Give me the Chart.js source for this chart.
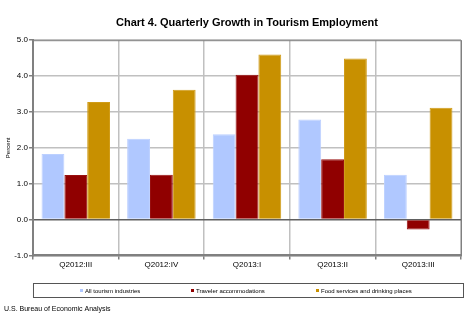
<!DOCTYPE html>
<html>
<head>
<meta charset="utf-8">
<script src="https://cdn.jsdelivr.net/npm/chart.js@4/dist/chart.umd.min.js"></script>
<style>
  html, body { margin: 0; padding: 0; background: #fff; }
  #wrap { width: 470px; height: 320px; }
</style>
</head>
<body>
<div id="wrap"><canvas id="tourismChart" width="470" height="320"></canvas></div>
<script>
const quarters = ["Q2012:III", "Q2012:IV", "Q2013:I", "Q2013:II", "Q2013:III"];
const allTourism = [1.83, 2.25, 2.38, 2.79, 1.25];
const travelerAccom = [1.24, 1.25, 4.04, 1.68, -0.28];
const foodServices = [3.28, 3.62, 4.60, 4.49, 3.12];
const yTicks = [-1, 0, 1, 2, 3, 4, 5];

const FONT = "'Liberation Sans', Arial, sans-serif";
Chart.defaults.font.family = FONT;
Chart.defaults.color = "#000";

// plot border, boxed legend and source line
const frames = {
    id: "frames",
    afterDraw(chart) {
        const c = chart.ctx;
        const a = chart.chartArea;
        c.save();
        c.strokeStyle = "#808080";
        c.lineWidth = 1;
        c.strokeRect(a.left + 0.5, a.top + 0.5, a.right - a.left, a.bottom - a.top);

        // legend box
        const top = 283, h = 14;
        c.strokeStyle = "#555";
        c.strokeRect(a.left + 0.5, top + 0.5, a.right - a.left + 2, h);
        c.font = "6px " + FONT;
        c.textBaseline = "middle";
        const xs = [80, 191, 316];
        chart.data.datasets.forEach((ds, i) => {
            c.fillStyle = ds.backgroundColor;
            c.fillRect(xs[i], top + h / 2 - 1, 3, 3);
            c.fillStyle = "#000";
            c.fillText(ds.label, xs[i] + 5, top + h / 2 + 1);
        });

        c.font = "7px " + FONT;
        c.fillText("U.S. Bureau of Economic Analysis", 4, 309);
        c.restore();
    }
};

new Chart(document.getElementById("tourismChart"), {
    type: "bar",
    data: {
        labels: quarters,
        datasets: [
            { label: "All tourism industries", data: allTourism,
              backgroundColor: "#b0c8ff", borderColor: "#bcd0ff", borderWidth: 1 },
            { label: "Traveler accommodations", data: travelerAccom,
              backgroundColor: "#900000", borderColor: "#981010", borderWidth: 1 },
            { label: "Food services and drinking places", data: foodServices,
              backgroundColor: "#c89000", borderColor: "#d09c18", borderWidth: 1 }
        ]
    },
    options: {
        responsive: false,
        animation: false,
        layout: { padding: { left: 5, right: 9, top: 0, bottom: 49 } },
        datasets: { bar: { categoryPercentage: 0.8, barPercentage: 1.0 } },
        plugins: {
            title: {
                display: true,
                fullSize: false,
                text: "Chart 4. Quarterly Growth in Tourism Employment",
                font: { size: 11, weight: "bold" },
                padding: { top: 16, bottom: 11 }
            },
            legend: { display: false },
            tooltip: { enabled: false }
        },
        scales: {
            x: {
                offset: true,
                grid: { offset: true, color: "#c0c0c0", lineWidth: 1.5, tickLength: 4, tickColor: "#808080" },
                border: { color: "#808080", width: 2 },
                ticks: { font: { size: 8 }, padding: 1 }
            },
            y: {
                min: -1, max: 5,
                afterBuildTicks: scale => { scale.ticks = yTicks.map(v => ({ value: v })); },
                grid: {
                    color: ctx => ctx.tick && ctx.tick.value === 0 ? "#606060" : "#c0c0c0",
                    lineWidth: 1.5, tickLength: 4, tickColor: "#808080"
                },
                border: { color: "#808080", width: 2 },
                ticks: { font: { size: 8 }, padding: 1, callback: v => Number(v).toFixed(1) },
                title: { display: true, text: "Percent", font: { size: 6 }, padding: { top: 0, bottom: 1 } }
            }
        }
    },
    plugins: [frames]
});
</script>
</body>
</html>
